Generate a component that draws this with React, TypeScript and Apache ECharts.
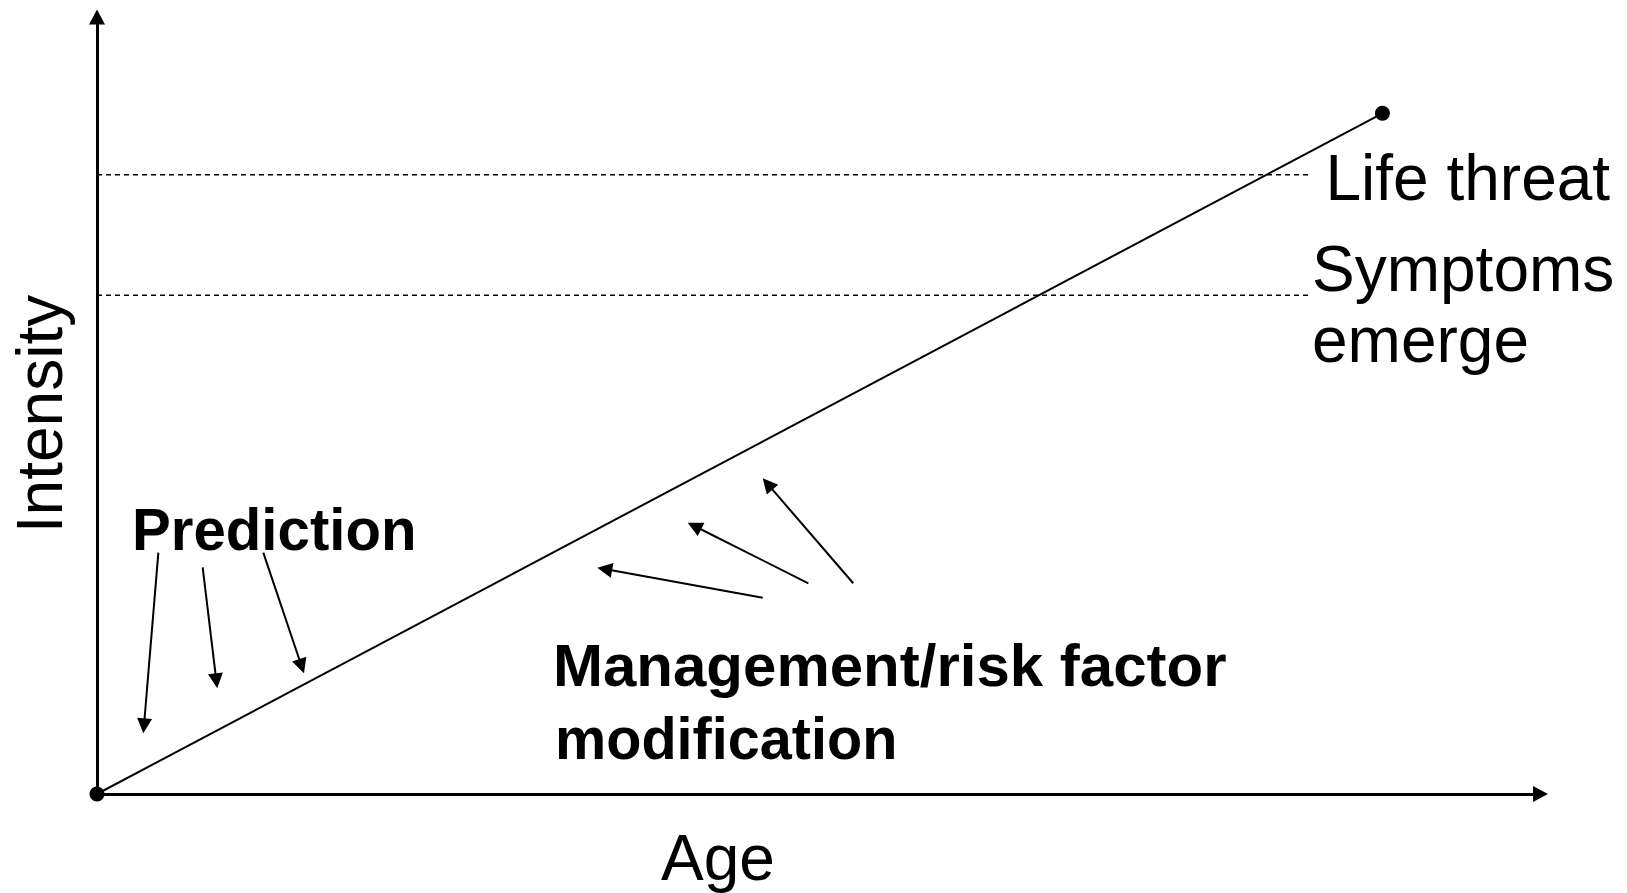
import React, { useEffect, useRef } from "react";
import * as echarts from "echarts";

// Main progression line (age, intensity) in arbitrary 0–100 units
const lineAge = [0, 89.05];
const lineIntensity = [0, 87.6];

// Threshold levels (dashed lines)
const thresholdNames = ["Life threat", "Symptoms emerge"];
const thresholdLevels = [79.7, 64.2];
const thresholdEnd = 83.9;

// Arrows: [fromAge, fromIntensity, toAge, toIntensity]
const predictionArrows = [
  [4.25, 31.06, 3.21, 7.81],
  [7.32, 29.18, 8.33, 13.6],
  [11.52, 31.06, 14.34, 15.53],
];
const managementArrows = [
  [46.12, 25.26, 34.66, 29.12],
  [49.28, 27.12, 40.92, 34.92],
  [52.39, 27.12, 46.12, 40.63],
];

const REG = "'Liberation Sans', Arial, Helvetica, sans-serif";

function arrowRender(params: any, api: any) {
  const p1 = api.coord([api.value(0), api.value(1)]);
  const p2 = api.coord([api.value(2), api.value(3)]);
  const dx = p2[0] - p1[0];
  const dy = p2[1] - p1[1];
  const len = Math.sqrt(dx * dx + dy * dy) || 1;
  const ux = dx / len;
  const uy = dy / len;
  const headL = 15;
  const headW = 7.5;
  const bx = p2[0] - ux * headL;
  const by = p2[1] - uy * headL;
  const px = -uy;
  const py = ux;
  return {
    type: "group",
    children: [
      {
        type: "line",
        shape: { x1: p1[0], y1: p1[1], x2: bx + ux * 2, y2: by + uy * 2 },
        style: { stroke: "#000", lineWidth: 2 },
      },
      {
        type: "polygon",
        shape: {
          points: [
            [p2[0], p2[1]],
            [bx + px * headW, by + py * headW],
            [bx - px * headW, by - py * headW],
          ],
        },
        style: { fill: "#000" },
      },
    ],
  };
}

export default function App() {
  const ref = useRef<HTMLDivElement>(null);
  useEffect(() => {
    if (!ref.current) return;
    const chart = echarts.init(ref.current, undefined, { renderer: "svg" });
    const axisCommon = {
      type: "value" as const,
      min: 0,
      max: 100,
      axisTick: { show: false },
      axisLabel: { show: false },
      splitLine: { show: false },
      axisLine: {
        show: true,
        symbol: ["none", "triangle"],
        symbolSize: [16, 15],
        lineStyle: { color: "#000", width: 3 },
      },
    };
    const regText = (text: string, x: number, y: number, extra: any = {}) => ({
      type: "text",
      x,
      y,
      ...extra,
      style: { text, font: `64px ${REG}`, fill: "#000", textAlign: "left", textVerticalAlign: "middle" },
    });
    const boldText = (text: string, x: number, y: number, sx = 1) => ({
      type: "text",
      x,
      y,
      scaleX: sx,
      style: { text, font: `bold 60px ${REG}`, fill: "#000", textAlign: "left", textVerticalAlign: "middle" },
    });
    const option: any = {
      animation: false,
      backgroundColor: "#fff",
      grid: { left: 97, top: 17, right: 86.5, bottom: 99, containLabel: false },
      xAxis: { ...axisCommon },
      yAxis: { ...axisCommon },
      series: [
        ...thresholdLevels.map((lvl, i) => ({
          type: "line",
          name: thresholdNames[i],
          data: [
            [0, lvl],
            [thresholdEnd, lvl],
          ],
          showSymbol: false,
          symbol: "none",
          lineStyle: { color: "#000", width: 1.5, type: [5, 4] },
          silent: true,
          z: 1,
        })),
        {
          type: "line",
          name: "Progression",
          data: lineAge.map((a, i) => [a, lineIntensity[i]]),
          symbol: "circle",
          symbolSize: 15,
          showSymbol: true,
          itemStyle: { color: "#000" },
          lineStyle: { color: "#000", width: 2 },
          clip: false,
          silent: true,
          z: 5,
        },
        {
          type: "custom",
          name: "Prediction",
          data: predictionArrows,
          encode: { x: [0, 2], y: [1, 3] },
          renderItem: arrowRender,
          silent: true,
          z: 4,
        },
        {
          type: "custom",
          name: "Management",
          data: managementArrows,
          encode: { x: [0, 2], y: [1, 3] },
          renderItem: arrowRender,
          silent: true,
          z: 4,
        },
      ],
      graphic: [
        regText("Life threat", 1325.5, 177.8),
        regText("Symptoms", 1312, 268.8),
        regText("emerge", 1312, 339.8),
        regText("Age", 661, 857.8),
        {
          type: "text",
          x: 39.5,
          y: 414,
          rotation: Math.PI / 2,
          style: { text: "Intensity", font: `64px ${REG}`, fill: "#000", textAlign: "center", textVerticalAlign: "middle" },
        },
        boldText("Prediction", 132, 529, 0.97),
        boldText("Management/risk factor", 553, 665, 1),
        boldText("modification", 555, 738, 0.96),
      ],
    };
    chart.setOption(option);
    return () => chart.dispose();
  }, []);
  return (
    <div
      ref={ref}
      style={{ position: "absolute", left: 0, top: 0, width: 1627, height: 893, background: "#fff" }}
    />
  );
}
